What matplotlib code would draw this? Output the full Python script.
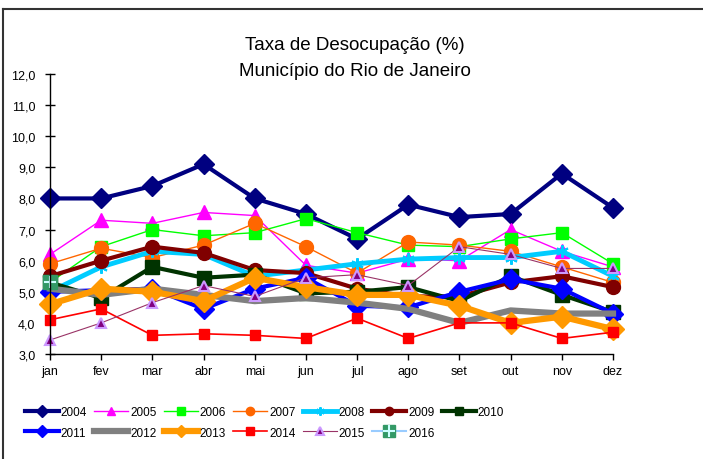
import matplotlib.pyplot as plt
from matplotlib.lines import Line2D

plt.rcParams['font.family'] = ['Liberation Sans', 'DejaVu Sans']

meses = ["jan", "fev", "mar", "abr", "mai", "jun", "jul", "ago", "set", "out", "nov", "dez"]

taxa_2004 = [8.0, 8.0, 8.4, 9.1, 8.0, 7.5, 6.7, 7.8, 7.4, 7.5, 8.8, 7.7]
taxa_2005 = [6.2, 7.3, 7.2, 7.55, 7.45, 5.85, 5.6, 6.05, 6.0, 7.0, 6.3, 5.8]
taxa_2006 = [5.3, 6.45, 7.0, 6.8, 6.9, 7.35, 6.9, 6.5, 6.45, 6.7, 6.9, 5.9]
taxa_2007 = [5.9, 6.4, 6.1, 6.5, 7.2, 6.45, 5.6, 6.6, 6.5, 6.3, 5.8, 5.3]
taxa_2008 = [5.0, 5.8, 6.3, 6.2, 5.5, 5.7, 5.9, 6.05, 6.1, 6.1, 6.3, 5.5]
taxa_2009 = [5.5, 6.0, 6.45, 6.25, 5.7, 5.6, 5.1, 4.85, 4.85, 5.3, 5.5, 5.15]
taxa_2010 = [5.3, 4.8, 5.8, 5.45, 5.55, 4.95, 5.0, 5.15, 4.7, 5.5, 4.9, 4.35]
taxa_2011 = [5.0, 5.05, 5.1, 4.45, 5.1, 5.45, 4.55, 4.5, 5.0, 5.4, 5.1, 4.3]
taxa_2012 = [5.1, 4.9, 5.1, 4.9, 4.7, 4.8, 4.65, 4.45, 4.0, 4.4, 4.3, 4.3]
taxa_2013 = [4.6, 5.1, 5.0, 4.7, 5.45, 5.15, 4.9, 4.9, 4.55, 4.0, 4.2, 3.8]
taxa_2014 = [4.1, 4.45, 3.6, 3.65, 3.6, 3.5, 4.15, 3.5, 4.0, 4.0, 3.5, 3.7]
taxa_2015 = [3.45, 4.0, 4.65, 5.2, 4.85, 5.45, 5.55, 5.2, 6.45, 6.2, 5.75, 5.75]
taxa_2016 = [5.3]

series = [
    ("2004", taxa_2004, dict(color="#000080", lw=3, marker="D", ms=10, mfc="#000080", mec="#000080")),
    ("2005", taxa_2005, dict(color="#FF00FF", lw=1, marker="^", ms=10, mfc="#FF00FF", mec="#FF00FF")),
    ("2006", taxa_2006, dict(color="#00FF00", lw=1, marker="s", ms=9, mfc="#00FF00", mec="#00FF00")),
    ("2007", taxa_2007, dict(color="#FF6600", lw=1, marker="o", ms=10, mfc="#FF6600", mec="#FF6600")),
    ("2008", taxa_2008, dict(color="#00CCFF", lw=3.5, marker=(6, 2, 0), ms=9, mfc="#00CCFF", mec="#00CCFF", mew=1.5)),
    ("2009", taxa_2009, dict(color="#800000", lw=3, marker="o", ms=10, mfc="#800000", mec="#800000")),
    ("2010", taxa_2010, dict(color="#003300", lw=3, marker="s", ms=10, mfc="#003300", mec="#003300")),
    ("2011", taxa_2011, dict(color="#0000FF", lw=3, marker="D", ms=10, mfc="#0000FF", mec="#0000FF")),
    ("2012", taxa_2012, dict(color="#808080", lw=4.5, marker=None)),
    ("2013", taxa_2013, dict(color="#FF9900", lw=4.5, marker="D", ms=11, mfc="#FF9900", mec="#FF9900")),
    ("2014", taxa_2014, dict(color="#FF0000", lw=1.2, marker="s", ms=7.5, mfc="#FF0000", mec="#FF0000")),
    ("2015", taxa_2015, dict(color="#993366", lw=0.8, marker="^", ms=7.5, mfc="#800080", mec="#CC99FF", mew=1.5)),
    ("2016", taxa_2016, dict(color="#99CCFF", lw=1.5, marker="s", ms=10, mfc="#339966", mec="#339966")),
]

fig = plt.figure(figsize=(7.03, 4.60), dpi=100)
ax = fig.add_axes([50 / 703, 105 / 460, 563 / 703, 280 / 460])

handles = {}
for nome, valores, estilo in series:
    x = list(range(len(valores)))
    ax.plot(x, valores, clip_on=False, **estilo)
    leg = dict(estilo)
    if leg.get("ms"):
        leg["ms"] = 6 if nome != "2016" else 9
    handles[nome] = Line2D([], [], label=nome, **leg)
    if nome == "2016":
        ax.plot(x, valores, ls="none", marker="+", ms=9, mew=1.5, color="#CCFFFF", clip_on=False)

ax.set_xlim(0, 11)
ax.set_ylim(3, 12)
ax.set_xticks(range(12))
ax.set_xticklabels(meses)
ax.set_yticks(range(3, 13))
ax.set_yticklabels([f"{v:.1f}".replace(".", ",") for v in range(3, 13)])
ax.tick_params(axis="y", direction="inout", length=7, width=1, labelsize=9, pad=7)
ax.tick_params(axis="x", direction="out", length=4, width=1, labelsize=9, pad=4)
for s in ("top", "right"):
    ax.spines[s].set_visible(False)
for s in ("left", "bottom"):
    ax.spines[s].set_linewidth(1)

fig.text(355 / 703, 1 - 46 / 460, "Taxa de Desocupação (%)", ha="center", va="center", fontsize=13.5)
fig.text(355 / 703, 1 - 71 / 460, "Município do Rio de Janeiro", ha="center", va="center", fontsize=13.5)

# 2016 legend entry: square with plus
plus = Line2D([], [], ls="none", marker="+", ms=9, mew=1.5, color="#CCFFFF")
handles["2016"] = (handles["2016"], plus)

# legend fills by column, so interleave to get rows 2004-2010 / 2011-2016
ordem = ["2004", "2011", "2005", "2012", "2006", "2013", "2007", "2014",
         "2008", "2015", "2009", "2016", "2010"]
fig.legend([handles[k] for k in ordem], ordem, ncol=7, loc="upper left",
           bbox_to_anchor=(20 / 703, 1 - 402 / 460),
           frameon=False, fontsize=8.5, handlelength=2.9, handletextpad=0.15, columnspacing=0.6,
           labelspacing=0.75, borderaxespad=0)

# moldura
fig.add_artist(Line2D([3 / 703, 3 / 703], [0, 1 - 10 / 460], transform=fig.transFigure, color="#333333", lw=1.5))
fig.add_artist(Line2D([3 / 703, 1], [1 - 10 / 460, 1 - 10 / 460], transform=fig.transFigure, color="#333333", lw=1.5))

fig.savefig("out.png", dpi=100)
